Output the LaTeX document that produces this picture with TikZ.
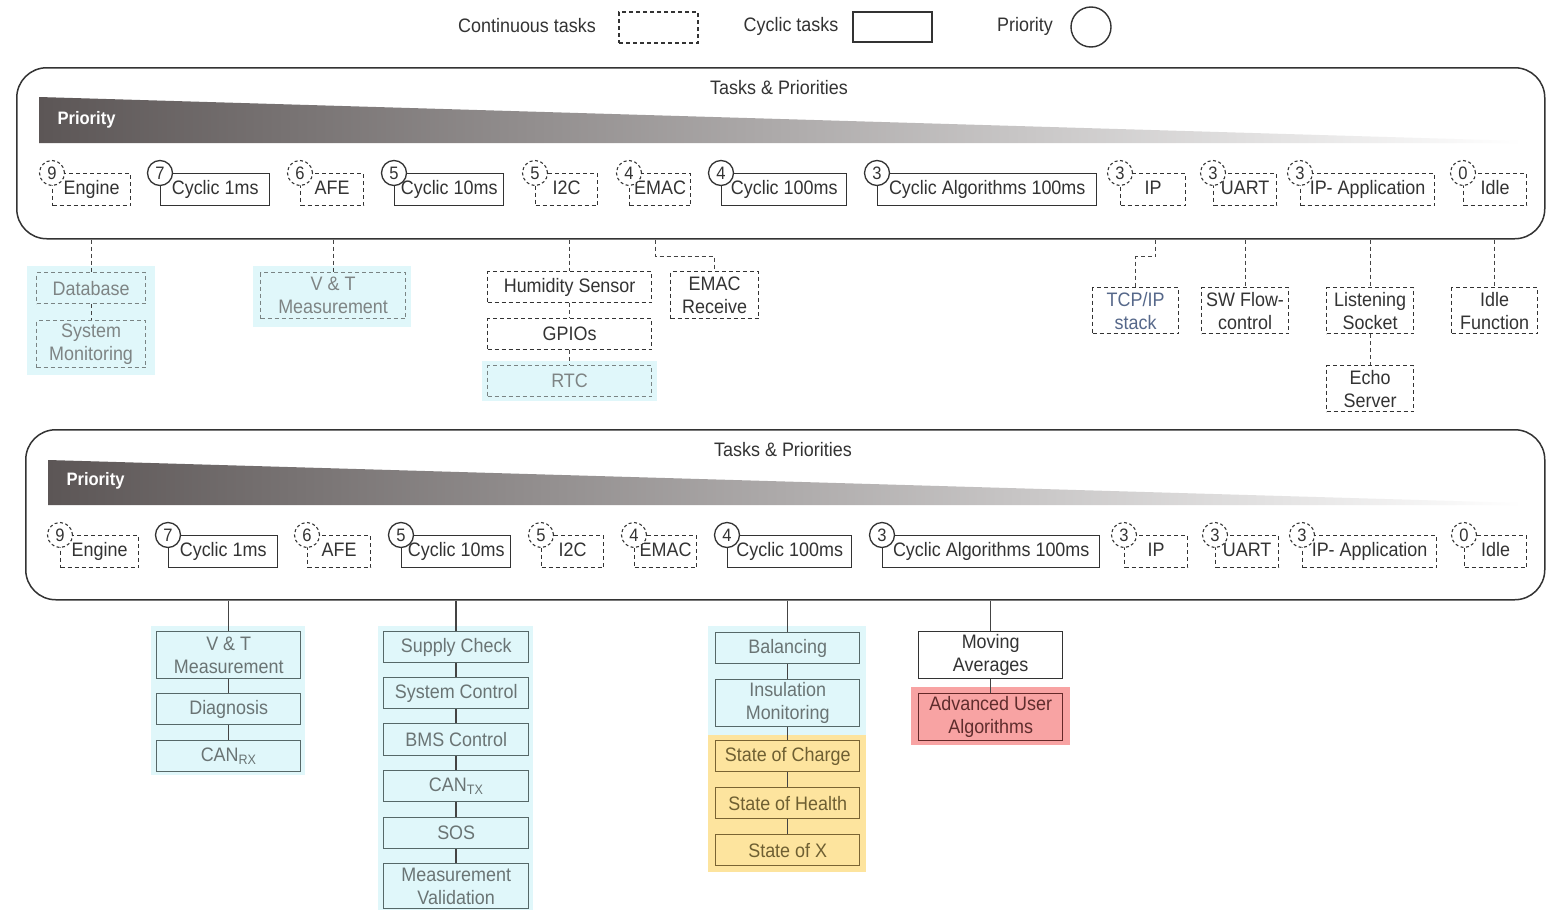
\documentclass[tikz,border=0pt]{standalone}
\usepackage{fontspec}
\setmainfont{Liberation Sans}[FakeStretch=0.92]
\definecolor{txt}{HTML}{333333}
\definecolor{hlc}{HTML}{E0F7FA}
\definecolor{hly}{HTML}{FDE49E}
\definecolor{hlr}{HTML}{F8A3A3}
\definecolor{cbord}{HTML}{566868}
\definecolor{ctext}{HTML}{6A7474}
\definecolor{dbord}{HTML}{7A8484}
\definecolor{dtext}{HTML}{7E8484}
\definecolor{ybord}{HTML}{7A6432}
\definecolor{ytext}{HTML}{6E5F32}
\definecolor{rbord}{HTML}{642828}
\definecolor{rtext}{HTML}{5F2D2D}
\definecolor{tcpc}{HTML}{56688A}
\definecolor{barl}{RGB}{92,86,86}
\definecolor{lnc}{HTML}{444444}
\tikzset{
  cont/.style={draw=txt, line width=1.2, dash pattern=on 4 off 3, fill=white, inner sep=1, align=center, text=txt},
  cyc/.style={draw=txt, line width=1.4, fill=white, inner sep=1, align=center, text=txt},
  contcirc/.style={circle, draw=txt, line width=1.1, dash pattern=on 3 off 2.5, fill=white, minimum size=25, inner sep=0, text=txt, font=\fontsize{18}{20}\selectfont},
  cyccirc/.style={circle, draw=txt, line width=1.3, fill=white, minimum size=25, inner sep=0, text=txt, font=\fontsize{18}{20}\selectfont},
  contc/.style={cont, draw=dbord, fill=hlc, text=dtext},
  conttcp/.style={cont, text=tcpc},
  cycc/.style={cyc, draw=cbord, fill=hlc, text=ctext},
  cycy/.style={cyc, draw=ybord, fill=hly, text=ytext},
  cycr/.style={cyc, draw=rbord, fill=hlr, text=rtext},
  container/.style={draw=txt, line width=1.5, rounded corners=30, inner sep=0},
  dconn/.style={draw=lnc, line width=1.2, dash pattern=on 4 off 3},
  sconn/.style={draw=lnc, line width=1.5},
  prio/.style={text=white, font=\bfseries\fontsize{18}{20}\selectfont, anchor=west},
}
\newcommand{\tsk}[7]{%
  \node[#2, minimum width=#4-#3, minimum height=32, text height=14, text depth=4, anchor=north west] (#1) at (#3,#7) {#6};
  \node[#2circ] (#1n) at (#1.north west) {#5};}
\newcommand{\cbox}[7]{%
  \node[#2, minimum width=#4-#3, minimum height=#6-#5, anchor=north west] (#1) at (#3,#5) {#7};}
\begin{document}
\begin{tikzpicture}[x=1pt, y=-1pt, font=\fontsize{19.5}{23}\selectfont, text=txt]
\useasboundingbox[fill=white] (0,0) rectangle (1552,910);

% legend
\node (lg1) at (527,26) {Continuous tasks};
\node[cont, minimum width=79, minimum height=31] (lg1b) at (658.5,27.5) {};
\node (lg2) at (791,26) {Cyclic tasks};
\node[cyc, minimum width=79, minimum height=30] (lg2b) at (892.5,27) {};
\node (lg3) at (1025,26) {Priority};
\node[circle, draw=txt, line width=1.4, minimum size=40, inner sep=0] (lg3c) at (1091,27) {};

% ---------- top container ----------
\node[container, minimum width=1528, minimum height=171, anchor=north west] (topc) at (16,67) {};
\node (topt) at (779,88) {Tasks \& Priorities};
\shade[left color=barl, right color=white] (39,97) -- (1522,141) -- (1522,143) -- (39,143) -- cycle;
\node[prio] (topp) at (54,120) {Priority};

\tsk{a1}{cont}{52}{130}{9}{Engine}{173}
\tsk{a2}{cyc}{160}{269}{7}{Cyclic 1ms}{173}
\tsk{a3}{cont}{300}{363}{6}{AFE}{173}
\tsk{a4}{cyc}{394}{503}{5}{Cyclic 10ms}{173}
\tsk{a5}{cont}{535}{597}{5}{I2C}{173}
\tsk{a6}{cont}{629}{690}{4}{EMAC}{173}
\tsk{a7}{cyc}{721}{846}{4}{Cyclic 100ms}{173}
\tsk{a8}{cyc}{877}{1096}{3}{Cyclic Algorithms 100ms}{173}
\tsk{a9}{cont}{1120}{1185}{3}{IP}{173}
\tsk{a10}{cont}{1213}{1276}{3}{UART}{173}
\tsk{a11}{cont}{1300}{1434}{3}{IP- Application}{173}
\tsk{a12}{cont}{1463}{1526}{0}{Idle}{173}

% highlights top
\fill[hlc] (27,266) rectangle (155,375);
\fill[hlc] (253,266) rectangle (411,327);
\fill[hlc] (482,361) rectangle (657,401);

\cbox{db}{contc}{36}{145}{272}{303}{Database}
\cbox{sm}{contc}{36}{145}{320}{367}{System\\Monitoring}
\cbox{vta}{contc}{260}{405}{272}{318}{V \& T\\Measurement}
\cbox{hs}{cont}{487}{651}{271}{302}{Humidity Sensor}
\cbox{gp}{cont}{487}{651}{318}{349}{GPIOs}
\cbox{rtc}{contc}{487}{651}{365}{396}{RTC}
\cbox{er}{cont}{670}{758}{271}{318}{EMAC\\Receive}
\cbox{tcp}{conttcp}{1092}{1178}{287}{333}{TCP/IP\\stack}
\cbox{sw}{cont}{1201}{1288}{287}{333}{SW Flow-\\control}
\cbox{ls}{cont}{1326}{1413}{287}{333}{Listening\\Socket}
\cbox{es}{cont}{1326}{1413}{365}{411}{Echo\\Server}
\cbox{idf}{cont}{1451}{1537}{287}{333}{Idle\\Function}

\draw[dconn] (db.north |- topc.south) -- (db.north);
\draw[dconn] (db.south) -- (sm.north);
\draw[dconn] (vta.north |- topc.south) -- (vta.north);
\draw[dconn] (hs.north |- topc.south) -- (hs.north);
\draw[dconn] (hs.south) -- (gp.north);
\draw[dconn] (gp.south) -- (rtc.north);
\draw[dconn] ([xshift=-4.5]a6.south |- topc.south) -- ++(0,17) -| (er.north);
\draw[dconn] ([xshift=2.5]a9.south |- topc.south) -- ++(0,17) -| (tcp.north);
\draw[dconn] (sw.north |- topc.south) -- (sw.north);
\draw[dconn] (ls.north |- topc.south) -- (ls.north);
\draw[dconn] (ls.south) -- (es.north);
\draw[dconn] (idf.north |- topc.south) -- (idf.north);

% ---------- bottom container ----------
\node[container, minimum width=1519, minimum height=170, anchor=north west] (botc) at (25,429) {};
\node (bott) at (783,450) {Tasks \& Priorities};
\shade[left color=barl, right color=white] (48,460) -- (1522,503) -- (1522,505) -- (48,505) -- cycle;
\node[prio] (botp) at (63,481) {Priority};

\tsk{b1}{cont}{60}{138}{9}{Engine}{535}
\tsk{b2}{cyc}{168}{277}{7}{Cyclic 1ms}{535}
\tsk{b3}{cont}{307}{370}{6}{AFE}{535}
\tsk{b4}{cyc}{401}{510}{5}{Cyclic 10ms}{535}
\tsk{b5}{cont}{541}{603}{5}{I2C}{535}
\tsk{b6}{cont}{634}{696}{4}{EMAC}{535}
\tsk{b7}{cyc}{727}{851}{4}{Cyclic 100ms}{535}
\tsk{b8}{cyc}{882}{1099}{3}{Cyclic Algorithms 100ms}{535}
\tsk{b9}{cont}{1124}{1187}{3}{IP}{535}
\tsk{b10}{cont}{1215}{1278}{3}{UART}{535}
\tsk{b11}{cont}{1302}{1436}{3}{IP- Application}{535}
\tsk{b12}{cont}{1464}{1526}{0}{Idle}{535}

% highlights bottom
\fill[hlc] (151,626) rectangle (305,775);
\fill[hlc] (378,626) rectangle (533,910);
\fill[hlc] (708,626) rectangle (866,735);
\fill[hly] (708,735) rectangle (866,872);
\fill[hlr] (911,687) rectangle (1070,745);

\cbox{vtb}{cycc}{156}{300}{631}{678}{V \& T\\Measurement}
\cbox{dg}{cycc}{156}{300}{693}{724}{Diagnosis}
\cbox{crx}{cycc}{156}{300}{740}{771}{CAN\textsubscript{RX}}
\cbox{sc}{cycc}{383}{528}{631}{662}{Supply Check}
\cbox{syc}{cycc}{383}{528}{677}{708}{System Control}
\cbox{bms}{cycc}{383}{528}{723}{755}{BMS Control}
\cbox{ctx}{cycc}{383}{528}{770}{801}{CAN\textsubscript{TX}}
\cbox{sos}{cycc}{383}{528}{817}{848}{SOS}
\cbox{mv}{cycc}{383}{528}{863}{908}{Measurement\\Validation}
\cbox{bal}{cycc}{715}{859}{632}{663}{Balancing}
\cbox{ins}{cycc}{715}{859}{679}{726}{Insulation\\Monitoring}
\cbox{soc}{cycy}{715}{859}{740}{771}{State of Charge}
\cbox{soh}{cycy}{715}{859}{787}{818}{State of Health}
\cbox{sox}{cycy}{715}{859}{834}{865}{State of X}
\cbox{ma}{cyc}{918}{1062}{631}{678}{Moving\\Averages}
\cbox{aua}{cycr}{918}{1062}{693}{740}{Advanced User\\Algorithms}

\draw[sconn] (vtb.north |- botc.south) -- (vtb.north);
\draw[sconn] (vtb.south) -- (dg.north);
\draw[sconn] (dg.south) -- (crx.north);
\draw[sconn] (sc.north |- botc.south) -- (sc.north);
\draw[sconn] (sc.south) -- (syc.north);
\draw[sconn] (syc.south) -- (bms.north);
\draw[sconn] (bms.south) -- (ctx.north);
\draw[sconn] (ctx.south) -- (sos.north);
\draw[sconn] (sos.south) -- (mv.north);
\draw[sconn] (bal.north |- botc.south) -- (bal.north);
\draw[sconn] (bal.south) -- (ins.north);
\draw[sconn] (ins.south) -- (soc.north);
\draw[sconn] (soc.south) -- (soh.north);
\draw[sconn] (soh.south) -- (sox.north);
\draw[sconn] (ma.north |- botc.south) -- (ma.north);
\draw[sconn] (ma.south) -- (aua.north);
\end{tikzpicture}
\end{document}
